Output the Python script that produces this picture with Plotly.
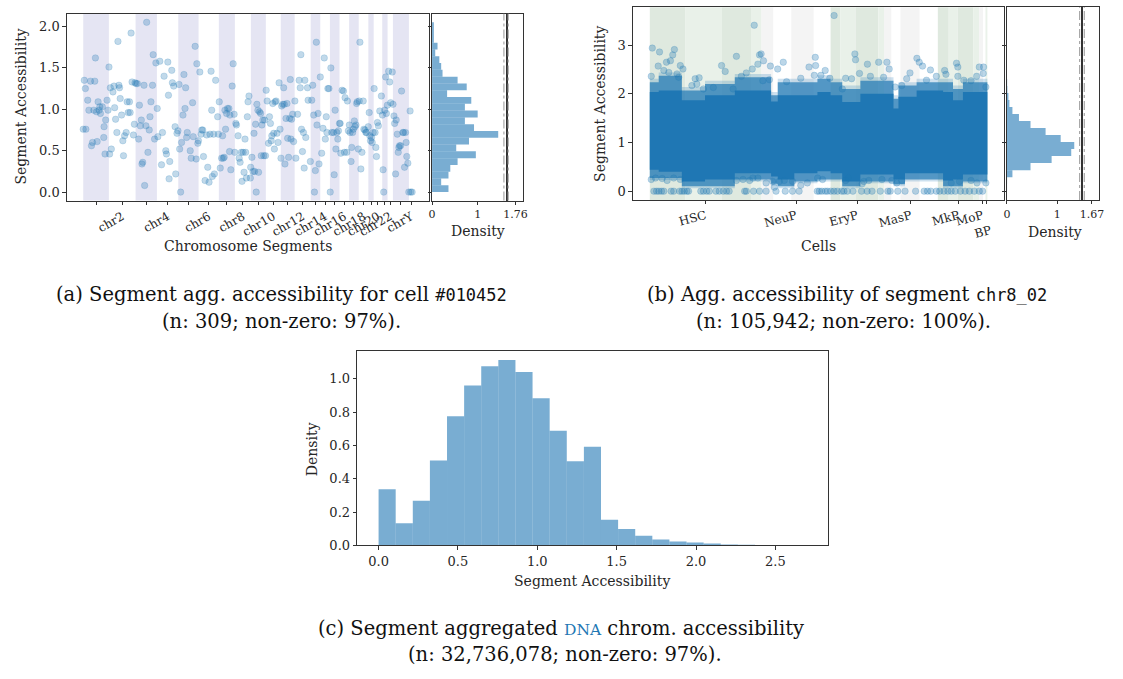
import numpy as np
import plotly.graph_objects as go

W, H = 1123, 679

# ------------------------------------------------------------------ panel (a)
chrom_labels = ["chr1", "chr2", "chr3", "chr4", "chr5", "chr6", "chr7", "chr8", "chr9", "chr10",
                "chr11", "chr12", "chr13", "chr14", "chr15", "chr16", "chr17", "chr18", "chr19",
                "chr20", "chr21", "chr22", "chrX", "chrY"]
chrom_segments = [24, 25, 20, 20, 19, 19, 15, 15, 14, 14, 13, 15, 9, 9, 9, 9, 9, 9, 5, 8, 5, 5, 15, 4]

seg_pos = [0, 1, 2, 2.5, 4.2, 5.3, 6.8, 7.7, 8.7, 9.9, 10.8, 11.4, 12.4, 13.0, 13.9, 14.8, 15.5, 16.1,
           17.9, 19.2, 19.5, 20.4, 21.0, 22.3, 23.2, 24.1, 24.7, 25.4, 26.3, 27.8, 28.8, 29.4, 30.3,
           31.5, 32.5, 33.4, 34.0, 34.6, 35.9, 37.1, 37.7, 38.7, 40.2, 41.1, 42.1, 43.3, 43.9, 44.8,
           45.7, 47.0, 47.9, 48.5, 49.5, 50.7, 51.9, 52.6, 53.5, 54.4, 55.0, 55.7, 56.9, 57.5, 58.7,
           59.4, 60.6, 61.8, 62.5, 63.4, 64.9, 65.5, 66.8, 68.0, 69.3, 69.9, 71.7, 73.3, 74.2, 75.7,
           77.3, 77.9, 79.2, 79.8, 80.4, 81.0, 82.9, 83.5, 84.7, 86.0, 86.6, 87.8, 88.7, 89.7, 90.3,
           91.2, 92.1, 93.4, 94.3, 95.3, 95.9, 96.8, 97.4,
           100.2, 101.1, 102.4, 103.0, 104.8, 105.8, 106.4, 107.3, 107.9, 109.2, 110.4, 111.0, 111.9,
           112.6, 114.1, 115.6, 116.6, 117.8, 118.7, 119.7, 120.3, 120.9, 122.1, 122.8, 124.0, 125.9,
           126.5, 127.4, 128.3, 129.6, 130.5, 131.1, 132.0, 132.7, 133.3, 134.2, 135.1, 136.4, 137.0,
           137.3, 138.2, 139.5, 140.4, 141.3, 141.9, 142.9, 143.5, 145.0, 146.0, 146.9, 148.1, 148.7,
           149.7, 150.6, 151.5, 152.1, 152.8, 153.7, 154.3, 155.2, 156.5, 156.8, 158.0, 159.0, 159.9,
           160.5, 161.4, 162.0, 162.6, 163.6, 164.2, 165.1, 166.1, 166.7, 167.3, 168.2, 169.1, 169.8,
           170.7, 171.3, 172.2, 173.5, 174.4, 175.3, 176.0, 176.6, 177.5, 178.4, 179.0, 179.7, 180.6,
           181.5, 182.4, 183.4, 184.3, 185.2, 185.8, 186.8, 187.7, 188.3, 188.9, 189.9, 190.8, 191.4,
           192.3, 193.3, 193.9, 194.5, 195.1, 196.1, 197.0, 198.2, 199.1, 200.7, 202.2, 203.2, 203.8,
           204.4, 205.3, 206.2, 206.9, 207.5, 208.4, 210.0, 210.6,
           212.7, 214.0, 214.9, 215.8, 216.5, 217.4, 218.3, 218.9, 219.9, 220.8, 222.0, 223.3, 224.5,
           225.7, 226.7, 227.6, 228.2, 229.1, 230.1, 231.3, 231.9, 232.8, 234.4, 235.0, 235.9, 236.6,
           237.5, 238.4, 239.0, 240.0, 240.6, 241.2, 242.4, 243.7, 244.6, 245.2, 246.8, 247.4, 248.3,
           249.2, 249.9, 250.8, 251.4, 252.3, 253.0, 253.9, 254.5, 255.4, 256.0, 256.6, 257.6, 258.5,
           259.1, 260.0, 261.0, 262.2, 262.8, 263.8, 264.7, 265.3, 266.9, 267.8, 268.4, 269.0, 270.0,
           270.6, 271.5, 272.4, 273.3, 274.0, 274.6, 275.5, 276.4, 277.7, 279.2, 280.2, 280.8, 281.4,
           282.3, 283.2, 283.9, 284.8, 286.0, 287.0, 287.9, 289.4, 290.1, 291.0, 291.6, 292.5, 293.1,
           294.1, 295.0, 295.6, 296.2, 297.2, 298.1, 299.3, 300.0, 300.9, 301.8, 302.4, 303.0, 304.0,
           304.9, 306.1, 306.7, 308.0]
seg_val = [0.76, 1.35, 1.25, 0.76, 1.11, 0.99, 1.34, 0.56, 0.60, 0.99, 1.34, 1.62, 0.97, 0.61, 1.09,
           0.99, 1.03, 0.95, 1.03, 0.66, 0.79, 0.46, 0.87, 1.11, 0.99, 1.51, 0.46, 1.26, 0.52, 1.21,
           1.28, 1.02, 0.88, 0.72, 1.82, 1.29, 1.26, 1.13, 0.93, 0.62, 0.44, 0.68, 0.72, 1.09, 0.96,
           1.09, 0.96, 1.92, 1.33, 0.69, 0.82, 1.32, 1.31, 1.31, 0.64, 1.05, 0.80, 0.87, 0.34, 0.36,
           1.29, 0.08, 0.80, 2.05, 0.48, 0.75, 0.91, 1.09, 1.29, 1.66, 0.64, 1.56, 1.01, 0.67, 1.58,
           0.33, 0.72, 1.40, 0.50, 0.46, 1.57, 1.17, 0.16, 0.37, 1.47, 1.32, 1.28, 0.79, 0.22, 0.71,
           0.74, 1.30, 0.52, 0.00, 0.60, 0.93, 1.42, 1.01, 1.26, 0.66, 0.72,
           0.50, 0.41, 1.08, 0.67, 1.76, 0.40, 1.55, 0.59, 0.62, 1.45, 0.70, 0.75, 0.75, 0.43, 0.14,
           0.69, 0.30, 0.12, 0.70, 1.46, 0.99, 0.19, 0.70, 0.22, 1.35, 0.91, 0.70, 1.09, 0.29, 0.41,
           0.68, 0.41, 0.42, 0.99, 0.76, 0.95, 1.01, 1.01, 0.49, 0.93, 0.27, 1.28, 1.55, 0.94, 0.48,
           0.83, 0.81, 0.68, 0.41, 0.36, 0.48, 0.13, 0.48, 0.24, 0.64, 0.48, 0.17, 0.91, 1.09, 1.16,
           0.17, 0.30, 0.42, 0.25, 0.71, 0.25, 0.82, 0.00, 1.06, 0.99, 0.24, 0.97, 0.95, 0.44, 0.81,
           0.87, 0.44, 0.87, 0.44, 1.23, 1.10, 0.59, 0.91, 0.83, 0.62, 0.68, 1.07, 0.71, 0.52, 1.09,
           1.10, 0.71, 0.60, 1.32, 0.76, 0.41, 1.04, 1.06, 1.26, 1.06, 0.34, 0.89, 1.07, 0.65, 0.42,
           0.89, 1.36, 0.64, 0.88, 0.94, 0.61, 1.10, 0.41, 0.94, 1.35, 1.26, 1.66, 0.76, 0.49, 0.72,
           0.29, 1.35, 0.66, 1.26, 1.11,
           0.37, 1.11, 1.29, 0.93, 0.00, 0.26, 1.81, 0.81, 0.95, 0.34, 1.39, 0.47, 0.77, 1.62, 0.64,
           0.91, 0.72, 1.25, 1.25, 0.00, 1.50, 0.72, 0.72, 0.21, 0.99, 0.52, 0.72, 0.64, 0.74, 0.83,
           0.83, 0.47, 1.23, 1.22, 0.48, 1.14, 0.48, 1.10, 0.74, 0.81, 0.72, 0.37, 0.54, 0.72, 0.76,
           0.86, 0.79, 0.81, 1.07, 1.09, 0.52, 1.10, 1.81, 0.28, 0.48, 1.10, 0.76, 0.75, 0.72, 0.72,
           0.79, 0.96, 0.68, 0.62, 0.66, 0.60, 0.72, 1.25, 0.72, 0.54, 0.43, 0.84, 0.80, 0.98, 1.16,
           0.93, 0.27, 0.00, 0.99, 1.39, 0.95, 1.05, 1.46, 1.33, 1.08, 1.45, 1.06, 0.92, 0.83, 0.22,
           0.87, 0.70, 0.48, 0.54, 0.56, 0.56, 1.22, 0.72, 0.72, 0.30, 0.72, 0.60, 0.43, 0.35, 0.00,
           0.98, 0.00, 0.00]

a_hist_range = (0.0, 2.05)
a_hist_density = [0.36, 0.20, 0.36, 0.40, 0.56, 0.96, 0.53, 0.81, 1.45, 0.92, 0.72, 1.00, 0.72,
                  0.86, 0.33, 0.76, 0.56, 0.23, 0.20, 0.16, 0.07, 0.12, 0.04, 0.04, 0.04]
a_density_label = 1.76

# ------------------------------------------------------------------ panel (b)
cell_types = ["HSC", "NeuP", "EryP", "MasP", "MkP", "MoP", "BP"]
cells_per_sample = [[11082, 11590, 9100, 3320], [3730, 5590, 7050, 5280], [3110, 4850, 7050, 1770],
                    [2360, 2800, 6030, 5690], [3420, 2800, 4970, 1770], [1240, 810], [300, 230]]
type_is_green = [True, False, True, False, True, False, True]

# dense-cloud envelope of the per-cell accessibility, read along the cell axis
env_cell = [0, 2802, 10055, 17339, 26679, 38072, 40158, 45356, 52610, 56750, 60392, 66089, 76486,
            78043, 80097, 83740, 92051, 95165, 98278, 105942]
env_core_hi = [2.04, 2.07, 1.87, 1.97, 2.07, 1.84, 1.97, 1.97, 2.04, 1.97, 1.83, 2.00, 1.70, 1.94,
               1.94, 2.07, 2.04, 1.87, 2.04]
env_core_lo = [0.44, 0.40, 0.20, 0.24, 0.37, 0.30, 0.24, 0.37, 0.41, 0.37, 0.20, 0.34, 0.24, 0.24,
               0.37, 0.37, 0.22, 0.24, 0.34]
env_fringe_hi = [2.24, 2.37, 2.07, 2.20, 2.34, 1.97, 2.24, 2.24, 2.31, 2.24, 2.10, 2.27, 1.90, 2.17,
                 2.17, 2.24, 2.24, 2.10, 2.24]
env_fringe_lo = [0.27, 0.27, 0.10, 0.10, 0.24, 0.15, 0.10, 0.20, 0.24, 0.24, 0.10, 0.20, 0.14, 0.14,
                 0.24, 0.24, 0.10, 0.10, 0.20]

b_out_cell = [777, 3055, 7716, 7198, 6473, 5230, 9580, 2641, 5955, 4402, 8544, 10408, 466, 9062,
              14240, 15483, 14758, 16830, 22526, 23665, 27186, 32779, 34954, 34436, 35678, 33918,
              32157, 30293, 28740, 37853, 40133, 41892, 37542, 35472, 42929, 47382, 49970, 52042,
              51629, 26151, 19937, 13205,
              466, 1812, 3884, 5437, 7509, 9580, 27186, 29257, 31329, 32364, 33918, 36507, 39096,
              38578, 40650, 42204, 44793, 47382, 49453,
              57842, 51938, 55045, 53699, 56495, 64367, 64573, 63330, 65816, 68301, 69233, 71824,
              74412, 75137, 73376, 77001, 79073, 80627, 81661, 83836, 84562, 85598, 88083, 86841,
              89948, 92536, 92951, 96265, 96679, 96679, 98544, 100821, 102582, 103411, 104759,
              104654, 105483, 60431, 61466,
              52664, 54217, 61466, 62295, 66645, 67163, 68717, 72859, 75966, 77520, 79073, 94608,
              97197, 100821, 102686, 105483]
b_out_val = [2.94, 2.86, 2.91, 2.80, 2.68, 2.65, 2.58, 2.57, 2.44, 2.48, 2.41, 2.51, 2.36, 2.34,
             2.31, 2.33, 2.20, 2.10, 2.58, 2.46, 2.77, 3.41, 2.82, 2.80, 2.68, 2.61, 2.51, 2.43,
             2.36, 2.57, 2.51, 2.65, 2.29, 2.27, 2.25, 2.32, 2.55, 2.58, 2.38, 2.10, 2.13, 2.17,
             0.24, 0.27, 0.26, 0.22, 0.27, 0.24, 0.22, 0.24, 0.22, 0.27, 0.27, 0.17, 0.08, 0.20,
             0.20, 0.22, 0.20, 0.12, 0.17,
             3.61, 2.75, 2.48, 2.38, 2.32, 2.82, 2.70, 2.31, 2.42, 2.61, 2.36, 2.65, 2.65, 2.51,
             2.34, 2.14, 2.17, 2.31, 2.43, 2.73, 2.65, 2.57, 2.49, 2.28, 2.36, 2.48, 2.40, 2.63,
             2.55, 2.36, 2.28, 2.27, 2.36, 2.55, 2.55, 2.42, 2.14, 2.10, 2.32,
             0.27, 0.24, 0.22, 0.27, 0.15, 0.20, 0.22, 0.24, 0.22, 0.17, 0.22, 0.17, 0.20, 0.22,
             0.17, 0.17]
b_zero_cell = [1295, 2123, 2848, 3677, 4402, 6680, 7509, 9373, 10098, 10823, 11651, 12169, 16001,
               16829, 17865, 18693, 20765, 21800, 23044, 24079, 24908, 29775, 30293, 32571, 34436,
               36507, 39614, 42514, 44793, 46863, 52560, 53181, 54010, 55045, 55771, 56806, 57842,
               58878, 60224, 60950, 61985, 63746, 66438, 68198, 69752, 72341, 74723, 75448, 77830,
               80109, 83423, 86115, 87151, 88186, 89948, 90984, 92329, 93572, 94608, 95851, 97507,
               98957, 100303, 101856, 103411, 104447]

b_hist_range = (0.0, 3.6)
b_hist_density = [0.003, 0.004, 0.11, 0.47, 0.89, 1.28, 1.34, 1.07, 0.77, 0.47, 0.24, 0.11, 0.05,
                  0.03, 0.01, 0.005, 0.002, 0.001, 0.0005, 0.0005, 0.0003, 0.0003, 0.0002, 0.0002,
                  0.0002]
b_density_label = 1.67

# ------------------------------------------------------------------ panel (c)
c_hist_range = (0.0, 2.695)
c_hist_density = [0.338, 0.134, 0.269, 0.510, 0.775, 0.960, 1.075, 1.113, 1.040, 0.883, 0.688, 0.506,
                  0.593, 0.154, 0.099, 0.059, 0.036, 0.024, 0.018, 0.012, 0.006, 0.004, 0.003, 0.002,
                  0.001]

# ------------------------------------------------------------------ styling helpers
BLUE = "31,119,180"
TICKFONT = dict(family="DejaVu Serif", size=12, color="#262626")
LABFONT = dict(family="DejaVu Serif", size=14, color="#262626")
CAPFONT = dict(family="DejaVu Serif", size=19.5, color="#111111")


def xd(l, r):
    return [l / W, r / W]


def yd(t, b):
    return [1 - b / H, 1 - t / H]


def ax(**kw):
    base = dict(showline=True, linecolor="#333333", linewidth=1, mirror=True, ticks="outside",
                ticklen=3.5, tickwidth=1, tickcolor="#333333", showgrid=False, zeroline=False,
                tickfont=TICKFONT, fixedrange=True)
    base.update(kw)
    return base


def bins(rng, dens):
    n = len(dens)
    edges = np.linspace(rng[0], rng[1], n + 1)
    return (edges[:-1] + edges[1:]) / 2, (rng[1] - rng[0]) / n


fig = go.Figure()
shapes = []

# ------------------------------------------------------------------ panel (a) traces
starts = np.concatenate([[0], np.cumsum(chrom_segments)[:-1]])
centers = starts + np.array(chrom_segments) / 2.0
for i, (s, n) in enumerate(zip(starts, chrom_segments)):
    if i % 2 == 0:
        shapes.append(dict(type="rect", xref="x", yref="y domain", x0=s, x1=s + n, y0=0, y1=1,
                           fillcolor="#e5e5f3", line=dict(width=0), layer="below"))
tick_text_a = [lab if i % 2 == 1 else "" for i, lab in enumerate(chrom_labels)]

fig.add_trace(go.Scatter(x=seg_pos, y=seg_val, mode="markers", xaxis="x", yaxis="y",
                         marker=dict(size=6.5, color=f"rgba({BLUE},0.28)",
                                     line=dict(width=0.8, color=f"rgba({BLUE},0.22)")),
                         showlegend=False, hoverinfo="skip"))
ca, wa = bins(a_hist_range, a_hist_density)
fig.add_trace(go.Bar(y=ca, x=a_hist_density, width=wa, orientation="h", xaxis="x2", yaxis="y2",
                     marker=dict(color=f"rgba({BLUE},0.6)", line=dict(width=0)), showlegend=False))

# ------------------------------------------------------------------ panel (b) traces
flat_counts = [c for grp in cells_per_sample for c in grp]
s_start = np.concatenate([[0], np.cumsum(flat_counts)[:-1]])
s_end = np.cumsum(flat_counts)
k = 0
type_centers = []
for t, grp in enumerate(cells_per_sample):
    t0 = s_start[k]
    for j, c in enumerate(grp):
        if type_is_green[t]:
            col = "#dfe9df" if j % 2 == 0 else "#e9f1e9"
        else:
            col = "#f4f4f4" if j % 2 == 0 else "#ffffff"
        shapes.append(dict(type="rect", xref="x4", yref="y4 domain", x0=s_start[k], x1=s_end[k],
                           y0=0, y1=1, fillcolor=col, line=dict(width=0), layer="below"))
        k += 1
    type_centers.append((t0 + s_end[k - 1]) / 2.0)


def envelope(hi, lo, pad_hi=0.0, pad_lo=0.0):
    xs, ys = [], []
    for a, b, v in zip(env_cell[:-1], env_cell[1:], hi):
        xs += [a, b]
        ys += [v + pad_hi, v + pad_hi]
    for a, b, v in reversed(list(zip(env_cell[:-1], env_cell[1:], lo))):
        xs += [b, a]
        ys += [v - pad_lo, v - pad_lo]
    return xs + [xs[0]], ys + [ys[0]]


hx, hy = envelope(env_fringe_hi, env_fringe_lo, 0.07, 0.04)
fig.add_trace(go.Scatter(x=hx, y=hy, fill="toself", mode="lines", line=dict(width=0),
                         fillcolor=f"rgba({BLUE},0.22)", xaxis="x4", yaxis="y4",
                         showlegend=False, hoverinfo="skip"))
fx, fy = envelope(env_fringe_hi, env_fringe_lo)
fig.add_trace(go.Scatter(x=fx, y=fy, fill="toself", mode="lines", line=dict(width=0),
                         fillcolor=f"rgba({BLUE},0.7)", xaxis="x4", yaxis="y4",
                         showlegend=False, hoverinfo="skip"))
cx, cy = envelope(env_core_hi, env_core_lo)
fig.add_trace(go.Scatter(x=cx, y=cy, fill="toself", mode="lines", line=dict(width=0),
                         fillcolor=f"rgb({BLUE})", xaxis="x4", yaxis="y4",
                         showlegend=False, hoverinfo="skip"))
marker_b = dict(size=6.5, color=f"rgba({BLUE},0.30)", line=dict(width=0.8, color=f"rgba({BLUE},0.25)"))
fig.add_trace(go.Scatter(x=b_out_cell, y=b_out_val, mode="markers", xaxis="x4", yaxis="y4",
                         marker=marker_b, showlegend=False, hoverinfo="skip"))
fig.add_trace(go.Scatter(x=b_zero_cell, y=[0.0] * len(b_zero_cell), mode="markers", xaxis="x4",
                         yaxis="y4", marker=marker_b, showlegend=False, hoverinfo="skip"))
cb, wb = bins(b_hist_range, b_hist_density)
fig.add_trace(go.Bar(y=cb, x=b_hist_density, width=wb, orientation="h", xaxis="x5", yaxis="y5",
                     marker=dict(color=f"rgba({BLUE},0.6)", line=dict(width=0)), showlegend=False))

# ------------------------------------------------------------------ panel (c) traces
cc, wc = bins(c_hist_range, c_hist_density)
fig.add_trace(go.Bar(x=cc, y=c_hist_density, width=wc, xaxis="x7", yaxis="y7",
                     marker=dict(color=f"rgba({BLUE},0.6)", line=dict(width=0)), showlegend=False))

# invisible traces to materialise the tail axes
fig.add_trace(go.Scatter(x=[a_density_label], y=[1.0], mode="markers", marker=dict(opacity=0),
                         xaxis="x3", yaxis="y3", showlegend=False, hoverinfo="skip"))
fig.add_trace(go.Scatter(x=[b_density_label], y=[1.0], mode="markers", marker=dict(opacity=0),
                         xaxis="x6", yaxis="y6", showlegend=False, hoverinfo="skip"))

# ------------------------------------------------------------------ axes
A_TOP, A_BOT = 14, 203
B_TOP, B_BOT = 7.3, 202.3
a_y_range = [-0.1025, 2.1525]
b_y_range = [-0.18, 3.78]
a_main_max = 1.635
a_tail = [a_density_label - 9 / 46, a_density_label + 7 / 46]
b_main_max = 1.5
b_tail = [b_density_label - 9.7 / 50.7, b_density_label + 7.6 / 50.7]
b_ticktext = [("<br>" + c) if c == "BP" else c for c in cell_types]

layout_axes = dict(
    xaxis=ax(domain=xd(63.3, 428), range=[-15.4, 323.4], tickvals=list(centers),
             ticktext=tick_text_a, tickangle=-30, anchor="y"),
    yaxis=ax(domain=yd(A_TOP, A_BOT), range=a_y_range, tickvals=[0, 0.5, 1, 1.5, 2],
             ticktext=["0.0", "0.5", "1.0", "1.5", "2.0"], anchor="x",
             tickfont=dict(TICKFONT, size=13)),
    xaxis2=ax(domain=xd(431.5, 506.7), range=[0, a_main_max], tickvals=[0, 1],
              ticktext=["0", "1"], anchor="y2", tickfont=dict(TICKFONT, size=11)),
    yaxis2=ax(domain=yd(A_TOP, A_BOT), range=a_y_range, tickvals=[0, 0.5, 1, 1.5, 2],
              showticklabels=False, anchor="x2"),
    xaxis3=ax(domain=xd(506.7, 522.7), range=a_tail, tickvals=[a_density_label],
              ticktext=[f"{a_density_label:.2f}"], anchor="y3", tickfont=dict(TICKFONT, size=11)),
    yaxis3=ax(domain=yd(A_TOP, A_BOT), range=a_y_range, ticks="", showticklabels=False,
              anchor="x3"),
    xaxis4=ax(domain=xd(634, 1008.3), range=[-5297, 111238], tickvals=type_centers,
              ticktext=b_ticktext, tickangle=-15, anchor="y4"),
    yaxis4=ax(domain=yd(B_TOP, B_BOT), range=b_y_range, tickvals=[0, 1, 2, 3],
              ticktext=["0", "1", "2", "3"], anchor="x4", tickfont=dict(TICKFONT, size=13)),
    xaxis5=ax(domain=xd(1011, 1087), range=[0, b_main_max], tickvals=[0, 1],
              ticktext=["0", "1"], anchor="y5", tickfont=dict(TICKFONT, size=11)),
    yaxis5=ax(domain=yd(B_TOP, B_BOT), range=b_y_range, tickvals=[0, 1, 2, 3],
              showticklabels=False, anchor="x5"),
    xaxis6=ax(domain=xd(1087, 1104.3), range=b_tail, tickvals=[b_density_label],
              ticktext=[f"{b_density_label:.2f}"], anchor="y6", tickfont=dict(TICKFONT, size=11)),
    yaxis6=ax(domain=yd(B_TOP, B_BOT), range=b_y_range, ticks="", showticklabels=False,
              anchor="x6"),
    xaxis7=ax(domain=xd(356, 830.4), range=[-0.135, 2.83], tickvals=[0, 0.5, 1, 1.5, 2, 2.5],
              ticktext=["0.0", "0.5", "1.0", "1.5", "2.0", "2.5"], anchor="y7",
              tickfont=dict(TICKFONT, size=13)),
    yaxis7=ax(domain=yd(354.8, 552), range=[0, 1.169], tickvals=[0, 0.2, 0.4, 0.6, 0.8, 1.0],
              ticktext=["0.0", "0.2", "0.4", "0.6", "0.8", "1.0"], anchor="x7",
              tickfont=dict(TICKFONT, size=13)),
)

# dash-dot break marks on the density margins
for xr, xv in [("x2", a_main_max - 0.06), ("x3", a_tail[0] + 0.035),
               ("x5", b_main_max - 0.054), ("x6", b_tail[0] + 0.04)]:
    shapes.append(dict(type="line", xref=xr, yref=xr.replace("x", "y") + " domain", x0=xv, x1=xv,
                       y0=0, y1=1, line=dict(color="#a8a8a8", width=1.2, dash="dashdot")))


def lab(text, x, y, angle=0, font=LABFONT):
    return dict(text=text, x=x / W, y=1 - y / H, xref="paper", yref="paper", showarrow=False,
                xanchor="center", yanchor="middle", textangle=angle, font=font)


MONO = "font-family:DejaVu Sans Mono;font-size:17px"
annotations = [
    lab("Segment Accessibility", 17, 108, -90),
    lab("Chromosome Segments", 246, 249),
    lab("Density", 478, 234),
    lab("Segment Accessibility", 601, 105, -90),
    lab("Cells", 821, 249),
    lab("Density", 1059, 235),
    lab("Density", 310, 455, -90),
    lab("Segment Accessibility", 593, 588),
    lab(f'(a) Segment agg. accessibility for cell <span style="{MONO}">#010452</span>', 280, 298,
        font=CAPFONT),
    lab("(n: 309; non-zero: 97%).", 280, 325, font=CAPFONT),
    lab(f'(b) Agg. accessibility of segment <span style="{MONO}">chr8_02</span>', 850, 298,
        font=CAPFONT),
    lab("(n: 105,942; non-zero: 100%).", 846, 325, font=CAPFONT),
    lab('(c) Segment aggregated <span style="color:#1f78b4;font-size:15.5px">DNA</span> chrom. accessibility',
        562, 636, font=CAPFONT),
    lab("(n: 32,736,078; non-zero: 97%).", 566, 662, font=CAPFONT),
]

fig.update_layout(
    width=W, height=H, autosize=False, margin=dict(l=0, r=0, t=0, b=0, pad=0),
    paper_bgcolor="white", plot_bgcolor="white", showlegend=False,
    shapes=shapes, annotations=annotations, **layout_axes,
)

fig.write_html("out.html", config={"displayModeBar": False, "staticPlot": True},
               post_script="document.body.style.margin='0px';")
